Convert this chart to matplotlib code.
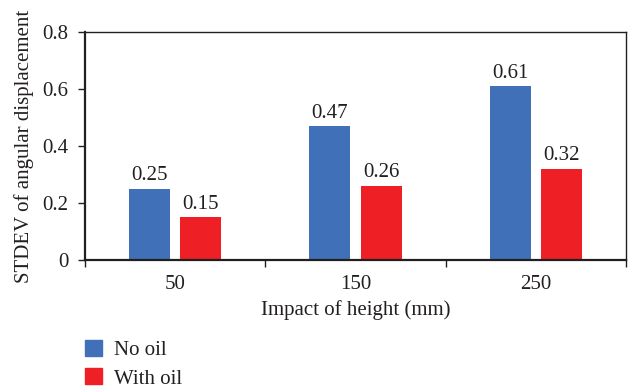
import matplotlib

matplotlib.use("Agg")
import matplotlib.pyplot as plt
import numpy as np
from matplotlib.patches import Patch

heights = ["50", "150", "250"]
no_oil = [0.25, 0.47, 0.61]
with_oil = [0.15, 0.26, 0.32]
series_names = ["No oil", "With oil"]

BLUE = "#4071b8"
RED = "#ee1f25"
TEXT = "#231f20"
FS = 15

plt.rcParams["font.family"] = ["Liberation Serif", "DejaVu Serif"]
plt.rcParams["text.color"] = TEXT
plt.rcParams["axes.labelcolor"] = TEXT
plt.rcParams["xtick.color"] = TEXT
plt.rcParams["ytick.color"] = TEXT

fig = plt.figure(figsize=(6.3, 3.88), dpi=100)
ax = fig.add_axes([85 / 630, 1 - 260 / 388, 541 / 630, 228 / 388])

x = np.arange(len(heights))
width = 0.228
offset = 0.142
b1 = ax.bar(x - offset, no_oil, width, color=BLUE)
b2 = ax.bar(x + offset, with_oil, width, color=RED)

for bars, vals in ((b1, no_oil), (b2, with_oil)):
    for bar, v in zip(bars, vals):
        ax.text(bar.get_x() + bar.get_width() / 2, v + 0.012, f"{v:.2f}",
                ha="center", va="bottom", fontsize=FS)

ax.set_xlim(-0.5, len(heights) - 0.5)
ax.set_ylim(0, 0.8)
ax.set_yticks([0, 0.2, 0.4, 0.6, 0.8])
ax.set_yticklabels(["0", "0.2", "0.4", "0.6", "0.8"])
ax.set_xticks(x)
ax.set_xticklabels(heights)
ax.set_xticks(np.arange(len(heights) + 1) - 0.5, minor=True)
ax.tick_params(axis="x", which="major", length=0, pad=11, labelsize=FS)
ax.tick_params(axis="x", which="minor", length=5, width=1, direction="out")
ax.tick_params(axis="y", length=5, width=1, direction="out", pad=7, labelsize=FS)

for side in ("left", "bottom"):
    ax.spines[side].set_linewidth(1.6)
    ax.spines[side].set_color(TEXT)
for side in ("top", "right"):
    ax.spines[side].set_linewidth(1.0)
    ax.spines[side].set_color(TEXT)

ax.set_xlabel("Impact of height (mm)", fontsize=FS, labelpad=4)
ax.set_ylabel("STDEV of angular displacement", fontsize=FS, labelpad=6)

handles = [Patch(color=BLUE), Patch(color=RED)]
fig.legend(handles, series_names, loc="upper left", bbox_to_anchor=(85 / 630, 1 - 340 / 388),
           frameon=False, fontsize=FS, handlelength=0.82, handleheight=0.78,
           handletextpad=0.55, labelspacing=0.4, borderaxespad=0, borderpad=0)

fig.savefig("out.png", dpi=100)
